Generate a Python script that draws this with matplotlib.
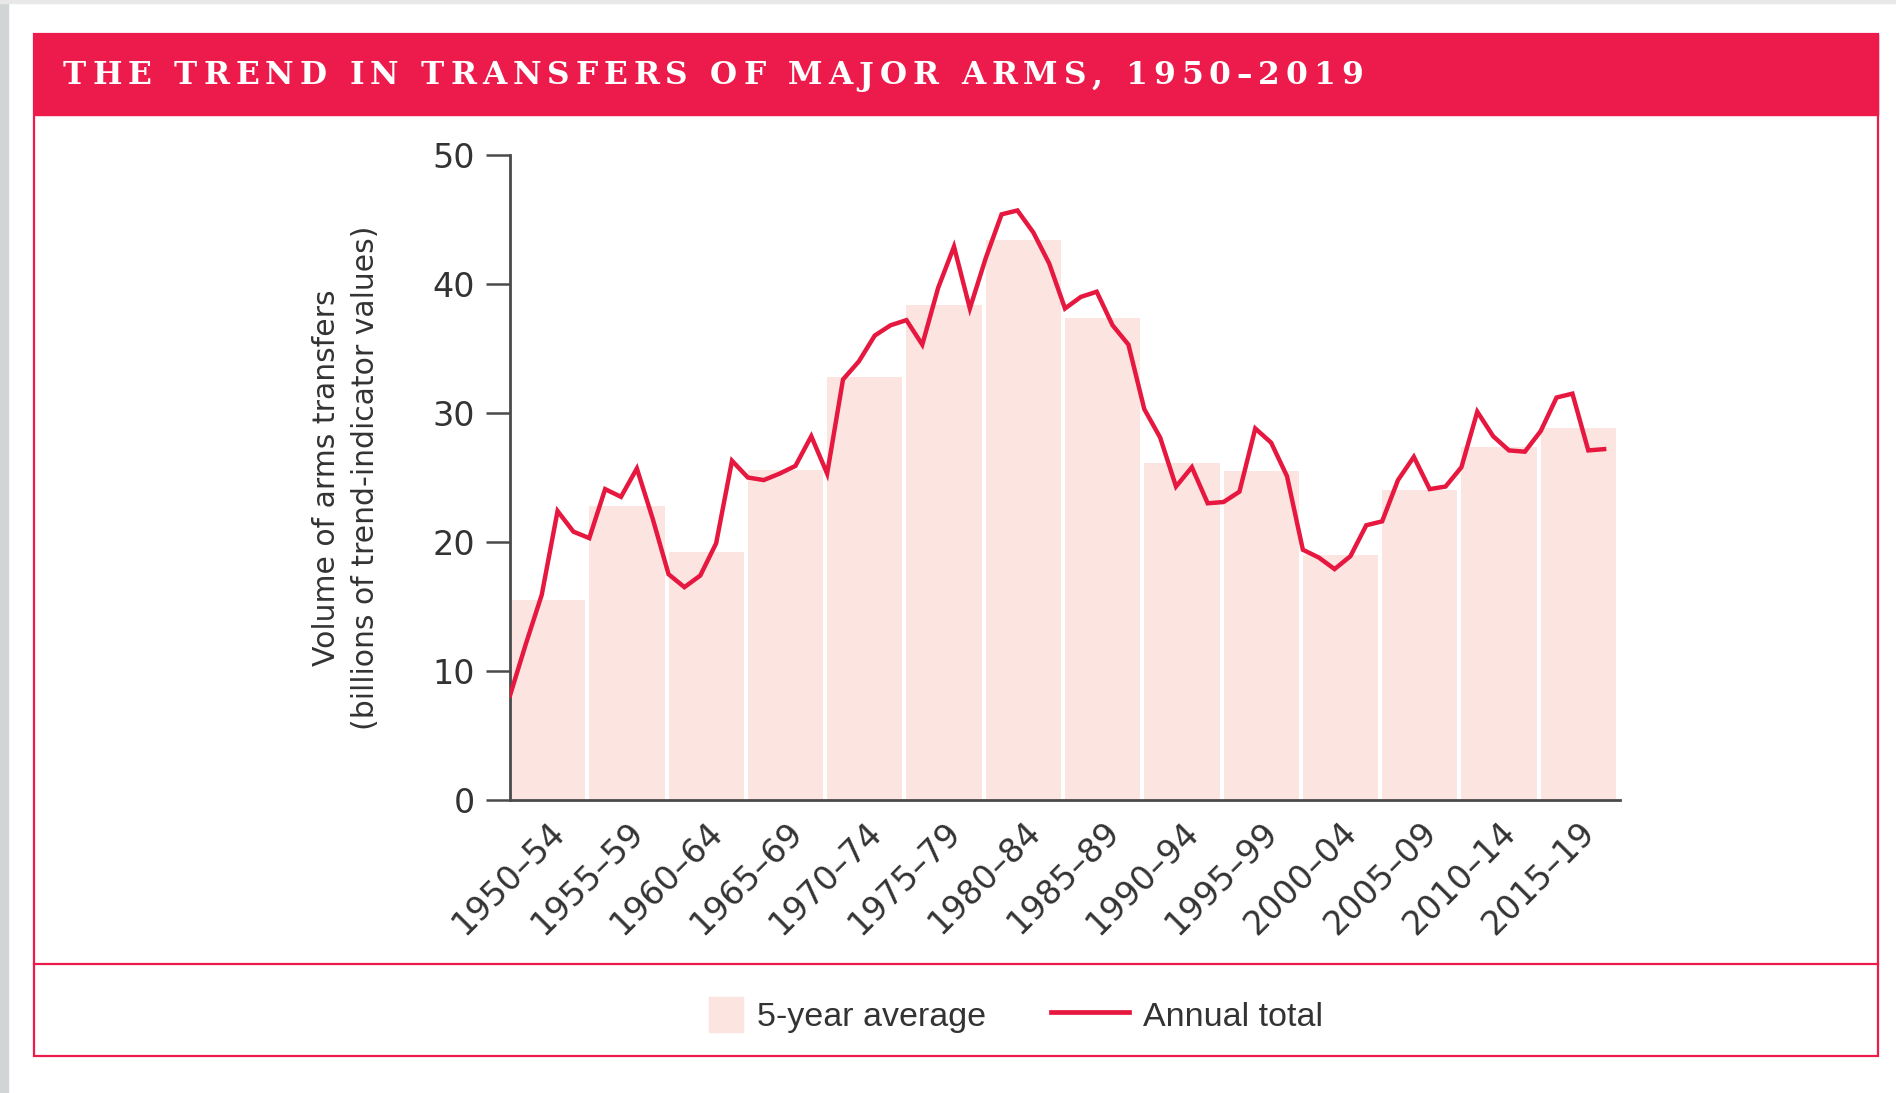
import matplotlib.pyplot as plt
import matplotlib.patches as mpatches
from matplotlib.lines import Line2D
from matplotlib.legend_handler import HandlerPatch
from matplotlib.transforms import ScaledTranslation

# Annual totals, billions of trend-indicator values
years = list(range(1950, 2020))
annual_total = [8.1, 12.1, 15.9, 22.4, 20.8, 20.3, 24.1, 23.5, 25.7, 21.8,
                17.5, 16.5, 17.4, 19.9, 26.3, 25.0, 24.8, 25.3, 25.9, 28.2,
                25.3, 32.6, 34.0, 36.0, 36.8, 37.2, 35.3, 39.7, 42.9, 38.1,
                42.0, 45.4, 45.7, 44.0, 41.6, 38.1, 39.0, 39.4, 36.8, 35.3,
                30.3, 28.1, 24.3, 25.8, 23.0, 23.1, 23.9, 28.8, 27.7, 25.1,
                19.4, 18.8, 17.9, 18.9, 21.3, 21.6, 24.8, 26.6, 24.1, 24.3,
                25.8, 30.1, 28.2, 27.1, 27.0, 28.6, 31.2, 31.5, 27.1, 27.2]

# 5-year averages
period_start = [1950, 1955, 1960, 1965, 1970, 1975, 1980,
                1985, 1990, 1995, 2000, 2005, 2010, 2015]
period_labels = ['1950–54', '1955–59', '1960–64', '1965–69', '1970–74',
                 '1975–79', '1980–84', '1985–89', '1990–94', '1995–99',
                 '2000–04', '2005–09', '2010–14', '2015–19']
avg_5yr = [15.5, 22.8, 19.2, 25.6, 32.8, 38.4, 43.4,
           37.4, 26.1, 25.5, 19.0, 24.0, 27.4, 28.8]

RED = '#EC1B4B'
LINE_RED = '#E6183F'
PINK = '#FCE5E1'
TEXT = '#333333'
AXIS = '#4a4a4a'

W, H = 1896, 1093
fig = plt.figure(figsize=(W / 100, H / 100), dpi=100)
fig.patch.set_facecolor('white')


def fx(px):
    return px / W


def fy(py):
    return 1 - py / H


# page edges (grey strips of the screenshot)
fig.add_artist(mpatches.Rectangle((0, 0), fx(8), 1, transform=fig.transFigure,
                                  color='#d2d5d5', zorder=0))
fig.add_artist(mpatches.Rectangle((0, fy(3)), 1, 3 / H, transform=fig.transFigure,
                                  color='#e8e8e8', zorder=0))

# frame, header band and separator
fig.add_artist(mpatches.Rectangle((fx(34), fy(1056)), fx(1878 - 34), (1056 - 34) / H,
                                  transform=fig.transFigure, fill=False,
                                  edgecolor=RED, lw=1.6, zorder=1))
fig.add_artist(mpatches.Rectangle((fx(34), fy(115)), fx(1878 - 34), (115 - 34) / H,
                                  transform=fig.transFigure, color=RED, zorder=2))
fig.add_artist(Line2D([fx(34), fx(1878)], [fy(964), fy(964)],
                      transform=fig.transFigure, color=RED, lw=1.6, zorder=1))

# title with wide letter spacing, drawn char by char
title = 'THE TREND IN TRANSFERS OF MAJOR ARMS, 1950–2019'
title_kw = dict(fontsize=22.5, fontweight='bold', family='DejaVu Serif', color='white',
                va='center', ha='left', zorder=3)
renderer = fig.canvas.get_renderer()


def text_width(s):
    t = fig.text(0, 0, s, **title_kw)
    w = t.get_window_extent(renderer).width
    t.remove()
    return w


space_w = text_width('H H') - text_width('HH')
widths = [space_w if ch == ' ' else text_width(ch) for ch in title]
gap = (1300 - sum(widths)) / (len(title) - 1)
x = 63
for ch, w in zip(title, widths):
    if ch != ' ':
        fig.text(fx(x), fy(76), ch, **title_kw)
    x += w + gap

# chart
ax = fig.add_axes([fx(510), fy(800), fx(1620 - 510), (800 - 155) / H])
ax.bar(period_start, avg_5yr, width=4.75, align='edge', color=PINK,
       edgecolor='none', zorder=1, label='5-year average')
ax.plot(years, annual_total, color=LINE_RED, lw=3.2, zorder=3,
        solid_joinstyle='miter', label='Annual total')

ax.set_xlim(1950, 2020)
ax.set_ylim(0, 50)
ax.set_yticks([0, 10, 20, 30, 40, 50])
ax.set_xticks([s + 2.375 for s in period_start])
ax.set_xticklabels(period_labels, rotation=45, ha='right', va='top',
                   rotation_mode='anchor', fontsize=24, family='DejaVu Sans', color=TEXT)
for lbl in ax.get_xticklabels():
    lbl.set_transform(lbl.get_transform() + ScaledTranslation(0.11, 0, fig.dpi_scale_trans))
ax.tick_params(axis='x', length=0, pad=11)
ax.tick_params(axis='y', length=17, width=1.8, color=AXIS, pad=8,
               labelsize=24, labelcolor=TEXT)
for lbl in ax.get_yticklabels():
    lbl.set_family('DejaVu Sans')

for side in ['top', 'right']:
    ax.spines[side].set_visible(False)
for side in ['left', 'bottom']:
    ax.spines[side].set_color(AXIS)
    ax.spines[side].set_linewidth(2)

fig.text(fx(346), fy(478), 'Volume of arms transfers\n(billions of trend-indicator values)',
         rotation=90, ha='center', va='center', multialignment='center',
         fontsize=21.5, family='DejaVu Sans', color=TEXT, linespacing=1.42)


# legend: square swatch for bars, long stroke for the line
def square_patch(legend, orig_handle, xdescent, ydescent, width, height, fontsize):
    return mpatches.Rectangle((-xdescent + width - height, -ydescent), height, height)


handles = [mpatches.Patch(color=PINK, label='5-year average'),
           Line2D([], [], color=LINE_RED, lw=3.4, label='Annual total')]
fig.legend(handles=handles, loc='center', bbox_to_anchor=(fx(994), fy(1015)),
           ncol=2, frameon=False, prop={'family': 'Liberation Sans', 'size': 24.5},
           labelcolor=TEXT, handlelength=2.3, handleheight=1.2, handletextpad=0.4,
           columnspacing=1.9, handler_map={mpatches.Patch: HandlerPatch(patch_func=square_patch)})

fig.savefig('out.png', dpi=100)
